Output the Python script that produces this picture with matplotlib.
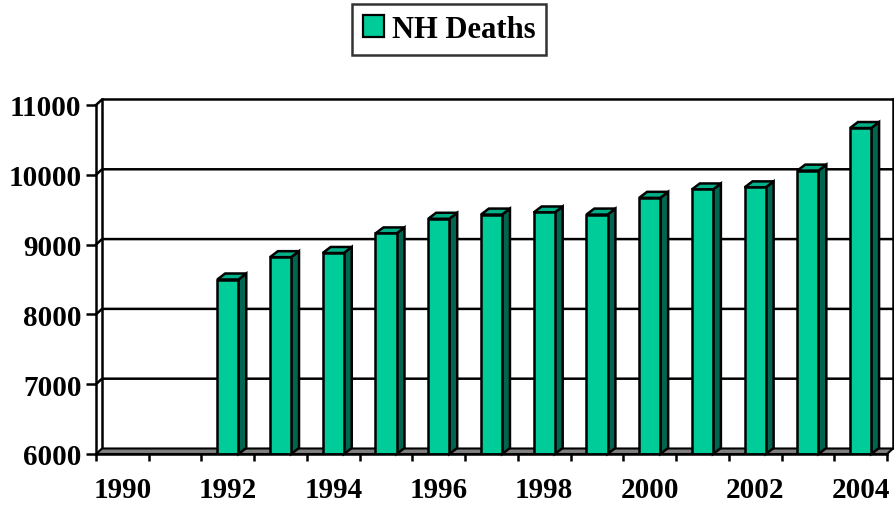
import numpy as np
import matplotlib.pyplot as plt
from matplotlib.patches import Polygon, Patch

# data
years = [1990, 1991, 1992, 1993, 1994, 1995, 1996, 1997,
         1998, 1999, 2000, 2001, 2002, 2003, 2004]
deaths = [np.nan, np.nan, 8500, 8820, 8880, 9160, 9370, 9430,
          9460, 9430, 9670, 9790, 9820, 10060, 10670]
yticks = [6000, 7000, 8000, 9000, 10000, 11000]
xlabels = ['1990', '1992', '1994', '1996', '1998', '2000', '2002', '2004']

front = '#00CC99'
side = '#006650'
top = '#00B088'
floor_c = '#808080'

plt.rcParams['font.family'] = ['Liberation Serif', 'DejaVu Serif']
plt.rcParams['font.weight'] = 'bold'

fig = plt.figure(figsize=(8.95, 5.06), dpi=100)
ax = fig.add_axes([96/895, 1-455/506, 791/895, 349/506])

x = np.arange(len(years))
base = yticks[0]
ymax = yticks[-1]
x0, x1 = -0.5, len(years) - 0.5
ax.set_xlim(x0, x1)
ax.set_ylim(base, ymax)

# depth offsets of the wall (data units)
wdx, wdy = 0.115, 79
# depth offsets of the bars
bdx, bdy = 0.15, 86
bw = 0.40
lw = 1.8

# back wall gridlines + left wall diagonals
for v in yticks[1:]:
    ax.plot([x0, x0 + wdx, x1 + wdx], [v, v + wdy, v + wdy],
            color='black', lw=lw, clip_on=False, zorder=1)
ax.plot([x0 + wdx, x0 + wdx], [base + wdy, ymax + wdy], color='black', lw=lw,
        clip_on=False, zorder=1)
ax.plot([x1 + wdx, x1 + wdx], [base + wdy, ymax + wdy], color='black', lw=lw,
        clip_on=False, zorder=1)

# floor
ax.add_patch(Polygon([(x0, base), (x1, base), (x1 + wdx, base + wdy),
                      (x0 + wdx, base + wdy)], closed=True, facecolor=floor_c,
                     edgecolor='black', lw=1.5, clip_on=False, zorder=2))

# bars with fake 3D faces
vals = np.array(deaths, dtype=float)
ok = ~np.isnan(vals)
ax.bar(x[ok], vals[ok] - base, bottom=base, width=bw, color=front,
       edgecolor='black', linewidth=lw, zorder=4)
for xi, v in zip(x[ok], vals[ok]):
    r = xi + bw / 2
    l = xi - bw / 2
    ax.add_patch(Polygon([(r, base), (r + bdx, base + bdy), (r + bdx, v + bdy), (r, v)],
                         closed=True, facecolor=side, edgecolor='black', lw=lw,
                         clip_on=False, zorder=3))
    ax.add_patch(Polygon([(l, v), (r, v), (r + bdx, v + bdy), (l + bdx, v + bdy)],
                         closed=True, facecolor=top, edgecolor='black', lw=lw,
                         clip_on=False, zorder=3))

# axes frame: only front left and bottom lines
for s in ['top', 'right']:
    ax.spines[s].set_visible(False)
for s in ['left', 'bottom']:
    ax.spines[s].set_linewidth(lw)
    ax.spines[s].set_zorder(5)

ax.set_yticks(yticks)
ax.set_yticklabels([str(t) for t in yticks])
ax.tick_params(axis='y', length=7, width=lw, pad=3.5, labelsize=21)

ax.set_xticks(np.arange(x0, x1 + 0.01, 1.0))
ax.set_xticklabels([])
ax.tick_params(axis='x', which='major', length=5, width=lw, direction='out')
ax.set_xticks(x[::2], minor=True)
ax.set_xticklabels(xlabels, minor=True)
ax.tick_params(axis='x', which='minor', length=0, pad=16, labelsize=21)

leg = fig.legend(handles=[Patch(facecolor=front, edgecolor='black', lw=1.6)],
                 labels=['NH Deaths'], loc='center', bbox_to_anchor=(0.502, 0.94),
                 fontsize=22, frameon=True, fancybox=False, handlelength=0.7,
                 handleheight=0.7, handletextpad=0.25, borderpad=0.35)
leg.get_frame().set_edgecolor('black')
leg.get_frame().set_linewidth(lw)

fig.savefig('out.png', dpi=100)
